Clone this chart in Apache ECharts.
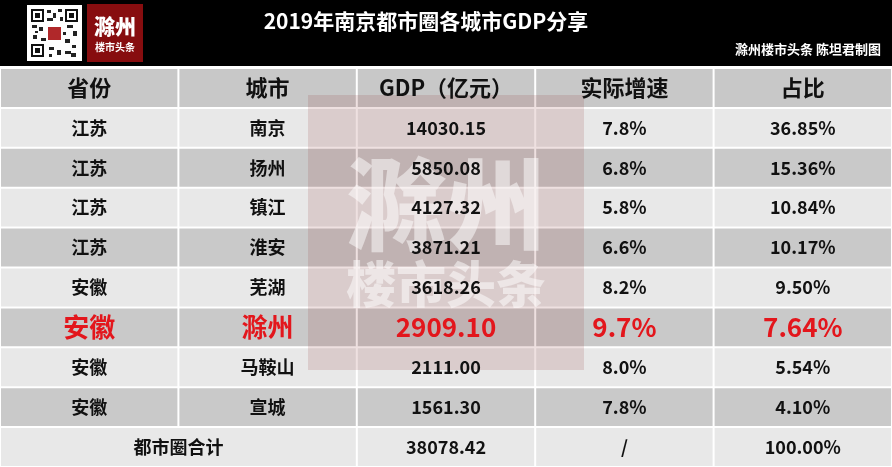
<!DOCTYPE html>
<html>
<head>
<meta charset="utf-8">
<script src="https://cdn.jsdelivr.net/npm/echarts@6/dist/echarts.min.js"></script>
<style>
  html, body { margin: 0; padding: 0; background: #fff; }
  #chart { width: 892px; height: 467px; }
</style>
</head>
<body>
<div id="chart"></div>
<script>
// 表格数据
const headers = ['省份', '城市', 'GDP（亿元）', '实际增速', '占比'];
const provinces = ['江苏', '江苏', '江苏', '江苏', '安徽', '安徽', '安徽', '安徽'];
const cities = ['南京', '扬州', '镇江', '淮安', '芜湖', '滁州', '马鞍山', '宣城'];
const gdp = [14030.15, 5850.08, 4127.32, 3871.21, 3618.26, 2909.10, 2111.00, 1561.30];
const growth = ['7.8%', '6.8%', '5.8%', '6.6%', '8.2%', '9.7%', '8.0%', '7.8%'];
const share = ['36.85%', '15.36%', '10.84%', '10.17%', '9.50%', '7.64%', '5.54%', '4.10%'];
const totalRow = ['都市圈合计', '38078.42', '/', '100.00%'];
const highlightCity = '滁州';

const FONT = '"Noto Sans CJK SC", "Noto Sans", sans-serif';

// 组装单元格
const cells = [];
headers.forEach((h, i) => cells.push({ col: i, row: 0, span: 1, text: h, kind: 'head' }));
cities.forEach((city, r) => {
    const kind = city === highlightCity ? 'hot' : 'body';
    const rowVals = [provinces[r], city, gdp[r].toFixed(2), growth[r], share[r]];
    rowVals.forEach((t, c) => cells.push({ col: c, row: r + 1, span: 1, text: t, kind: kind }));
});
const lastRow = cities.length + 1;
cells.push({ col: 0, row: lastRow, span: 2, text: totalRow[0], kind: 'body' });
cells.push({ col: 2, row: lastRow, span: 1, text: totalRow[1], kind: 'body' });
cells.push({ col: 3, row: lastRow, span: 1, text: totalRow[2], kind: 'body' });
cells.push({ col: 4, row: lastRow, span: 1, text: totalRow[3], kind: 'body' });

const rowNames = [];
for (let i = 0; i <= lastRow; i++) rowNames.push('r' + i);

function rowColor(row) {
    if (row === 0) return '#c8c8c8';
    return row % 2 === 1 ? '#e8e8e8' : '#c9c9c9';
}

function cellRect(api) {
    const c = api.coord([api.value(0), api.value(1)]);
    const s = api.size([1, 1]);
    const x0 = c[0] - s[0] / 2;
    const y0 = c[1] - s[1] / 2;
    return { x: x0, y: y0, w: s[0] * api.value(2), h: s[1] };
}

const cellData = cells.map(d => [d.col, d.row, d.span]);

// 二维码（示意）
const qr = [];
const qx = 27, qy = 5, qs = 55;
qr.push({ type: 'rect', shape: { x: qx, y: qy, width: qs, height: qs + 1 }, style: { fill: '#fff' } });
[[qx + 4, qy + 4], [qx + qs - 17, qy + 4], [qx + 4, qy + qs - 16]].forEach(p => {
    qr.push({ type: 'rect', shape: { x: p[0], y: p[1], width: 13, height: 13 }, style: { fill: '#111' } });
    qr.push({ type: 'rect', shape: { x: p[0] + 2, y: p[1] + 2, width: 9, height: 9 }, style: { fill: '#fff' } });
    qr.push({ type: 'rect', shape: { x: p[0] + 4, y: p[1] + 4, width: 5, height: 5 }, style: { fill: '#111' } });
});
[[20, 5, 4, 3], [26, 8, 3, 5], [31, 4, 4, 3], [20, 13, 6, 3], [5, 20, 5, 3], [12, 22, 4, 4], [40, 20, 6, 3],
 [46, 26, 4, 5], [6, 30, 4, 4], [14, 33, 5, 3], [38, 34, 5, 4], [45, 40, 4, 3], [22, 42, 5, 3], [30, 45, 4, 5],
 [38, 46, 6, 3], [44, 48, 5, 4], [22, 49, 3, 3], [33, 12, 3, 4], [8, 26, 3, 2], [36, 27, 3, 3]].forEach(b => {
    qr.push({ type: 'rect', shape: { x: qx + b[0], y: qy + b[1], width: b[2], height: b[3] }, style: { fill: '#222' } });
});
qr.push({ type: 'rect', shape: { x: qx + 21, y: qy + 22, width: 13, height: 13 }, style: { fill: '#b0282a' } });

const chart = echarts.init(document.getElementById('chart'));
chart.setOption({
    backgroundColor: '#fff',
    animation: false,
    grid: { left: 0, right: 0, top: 68, bottom: 0 },
    xAxis: { type: 'category', data: headers, show: false },
    yAxis: { type: 'category', data: rowNames, inverse: true, show: false },
    graphic: [
        { type: 'rect', z: 1, shape: { x: 0, y: 0, width: 892, height: 66 }, style: { fill: '#000' } },
        ...qr.map(e => Object.assign(e, { z: 2 })),
        { type: 'rect', z: 2, shape: { x: 87, y: 4, width: 56, height: 58 }, style: { fill: '#870d0f' } },
        { type: 'text', z: 3, x: 115, y: 26, style: { text: '滁州', fill: '#fff', font: '900 21px ' + FONT, align: 'center', verticalAlign: 'middle' } },
        { type: 'text', z: 3, x: 115, y: 47, style: { text: '楼市头条', fill: '#fff', font: 'bold 10px ' + FONT, align: 'center', verticalAlign: 'middle' } },
        { type: 'text', z: 3, x: 426, y: 21, style: { text: '2019年南京都市圈各城市GDP分享', fill: '#fff', font: 'bold 21px ' + FONT, align: 'center', verticalAlign: 'middle' } },
        { type: 'text', z: 3, x: 881, y: 49, style: { text: '滁州楼市头条 陈坦君制图', fill: '#fff', font: 'bold 13px ' + FONT, align: 'right', verticalAlign: 'middle' } },
        // 水印
        { type: 'rect', z: 5, shape: { x: 308, y: 95, width: 276, height: 275 }, style: { fill: 'rgba(150,60,60,0.16)' } },
        { type: 'text', z: 5, x: 446, y: 204, style: { text: '滁州', fill: 'rgba(255,255,255,0.5)', font: '900 100px ' + FONT, align: 'center', verticalAlign: 'middle' } },
        { type: 'text', z: 5, x: 446, y: 284, style: { text: '楼市头条', fill: 'rgba(255,255,255,0.5)', font: '900 50px ' + FONT, align: 'center', verticalAlign: 'middle' } }
    ],
    series: [
        {
            // 单元格底色
            type: 'custom',
            z: 1,
            silent: true,
            data: cellData,
            renderItem: (params, api) => {
                const r = cellRect(api);
                return {
                    type: 'rect',
                    shape: { x: r.x + 1, y: r.y + 1, width: r.w - 2, height: r.h - 2 },
                    style: { fill: rowColor(api.value(1)) }
                };
            }
        },
        {
            // 单元格文字
            type: 'custom',
            z: 10,
            silent: true,
            data: cellData,
            renderItem: (params, api) => {
                const r = cellRect(api);
                const cell = cells[params.dataIndex];
                let size = 18, color = '#111';
                if (cell.kind === 'head') size = 22;
                if (cell.kind === 'hot') { size = 26; color = '#e3161c'; }
                return {
                    type: 'text',
                    x: r.x + r.w / 2,
                    y: r.y + r.h / 2,
                    style: {
                        text: cell.text,
                        fill: color,
                        font: 'bold ' + size + 'px ' + FONT,
                        align: 'center',
                        verticalAlign: 'middle'
                    }
                };
            }
        }
    ]
});
</script>
</body>
</html>
